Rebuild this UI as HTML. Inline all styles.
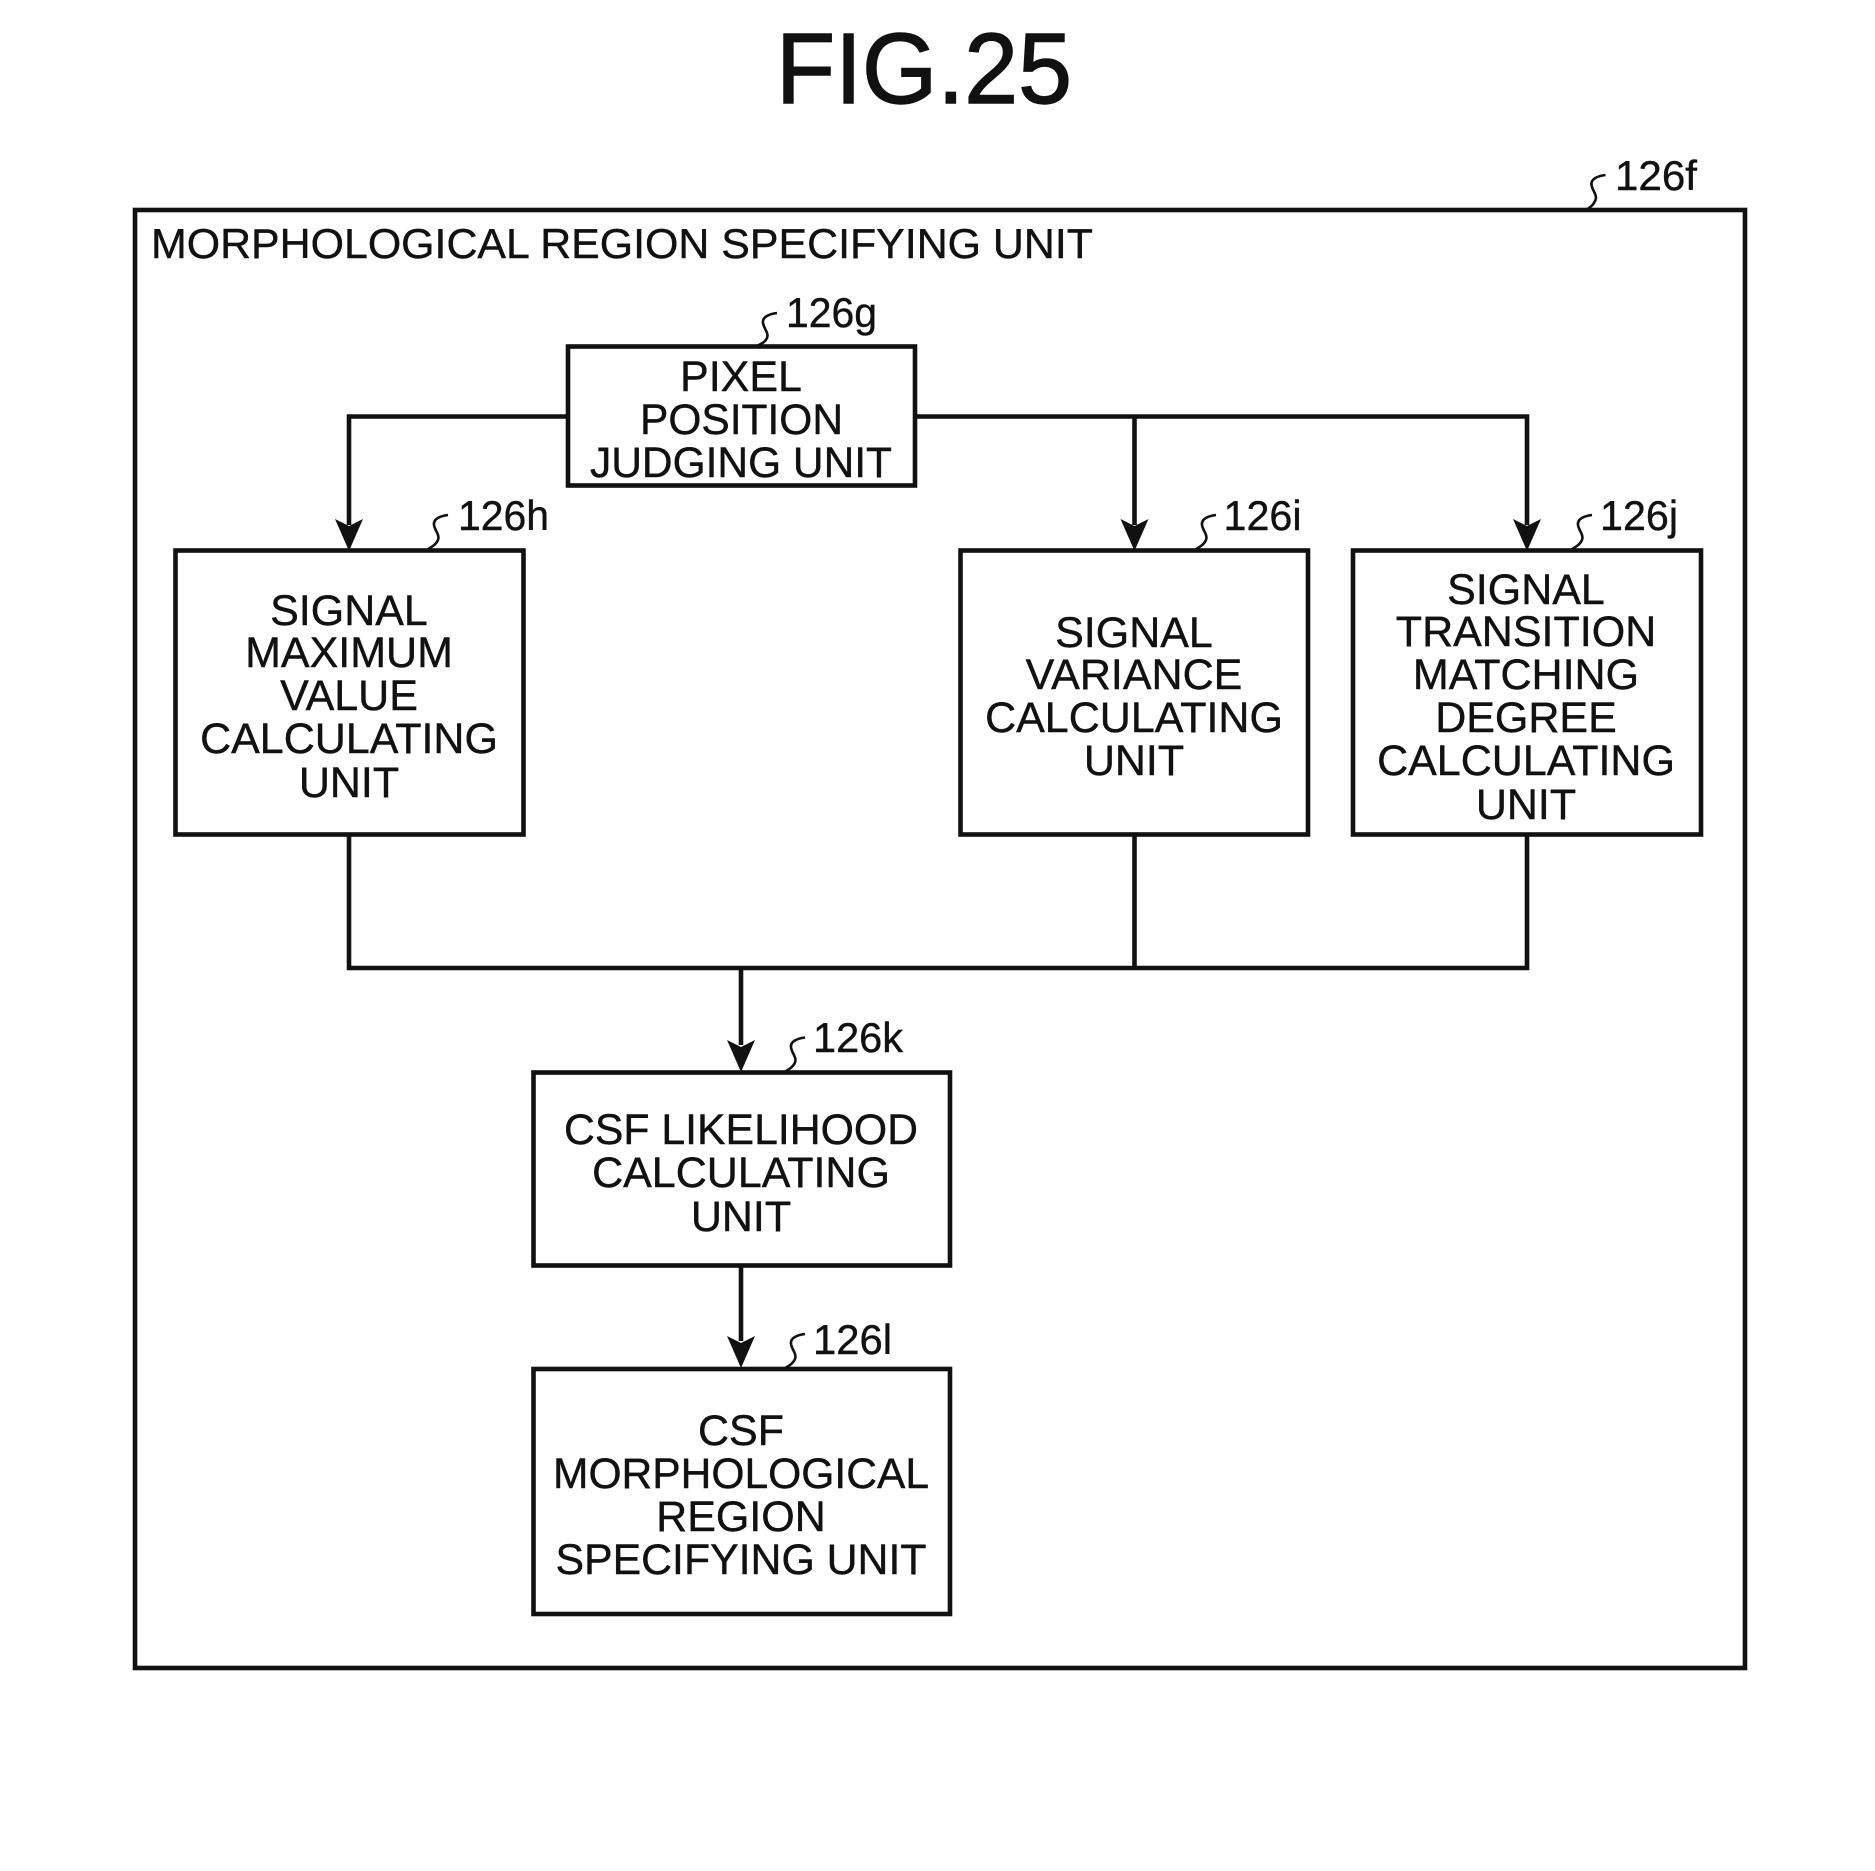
<!DOCTYPE html>
<html>
<head>
<meta charset="utf-8">
<style>
html,body{margin:0;padding:0;background:#fff;}
svg{display:block;}
text{font-family:"Liberation Sans",sans-serif;fill:#111;stroke:#111;stroke-width:0.4;}
.t{font-size:43px;text-anchor:middle;}
.l{font-size:42px;}
.b{fill:none;stroke:#111;stroke-width:4.6;}
.c{fill:none;stroke:#111;stroke-width:4.6;}
.q{fill:none;stroke:#111;stroke-width:2.6;}
.a{fill:#111;stroke:none;}
</style>
</head>
<body>
<svg width="1875" height="1871" viewBox="0 0 1875 1871" xmlns="http://www.w3.org/2000/svg">
<rect width="1875" height="1871" fill="#fff"/>
<text x="776" y="103" font-size="100" textLength="296" lengthAdjust="spacingAndGlyphs" style="stroke-width:1.4">FIG.25</text>

<rect class="b" x="135" y="210" width="1610" height="1458"/>
<text class="l" x="151" y="258" textLength="942" lengthAdjust="spacingAndGlyphs">MORPHOLOGICAL REGION SPECIFYING UNIT</text>

<rect class="b" x="568" y="346.500" width="347" height="139"/>
<rect class="b" x="175.500" y="550.500" width="348" height="284"/>
<rect class="b" x="960.500" y="550.500" width="347.500" height="284"/>
<rect class="b" x="1353" y="550.500" width="348" height="284"/>
<rect class="b" x="533.500" y="1072.500" width="416.500" height="193"/>
<rect class="b" x="533.500" y="1369" width="416.500" height="245"/>

<path class="c" d="M568 416.500H349V525"/>
<path class="c" d="M915 416.500H1527V525M1134.500 416.500V525"/>
<path class="c" d="M349 834V968H1527V834M1134.500 834V968M741 968V1045M741 1265V1341"/>

<polygon class="a" points="349,551 335,519 349,526 363,519"/>
<polygon class="a" points="1134.500,551 1120.500,519 1134.500,526 1148.500,519"/>
<polygon class="a" points="1527,551 1513,519 1527,526 1541,519"/>
<polygon class="a" points="741,1072 727,1040 741,1047 755,1040"/>
<polygon class="a" points="741,1368 727,1336 741,1343 755,1336"/>

<path class="q" d="M1605.500 175c-8 1-15 4-14 10c1 6 6 10 4 15c-2 5-5 7-8 9"/>
<path class="q" d="M777 313c-8 1-15 4-14 10c1 6 6 10 4 15c-2 5-7 6-10 8"/>
<path class="q" d="M448 515c-8 1-15 4-14 10c1 6 6 10 4 15c-2 5-7 7-11 10"/>
<path class="q" d="M1216 515c-8 1-15 4-14 10c1 6 6 10 4 15c-2 5-7 7-11 10"/>
<path class="q" d="M1592 515c-8 1-15 4-14 10c1 6 6 10 4 15c-2 5-7 7-11 10"/>
<path class="q" d="M805 1037.500c-8 1-15 4-14 10c1 6 6 10 4 15c-2 5-7 7-11 10"/>
<path class="q" d="M805 1334c-8 1-15 4-14 10c1 6 6 10 4 15c-2 5-7 7-11 10"/>

<text class="l" x="1615" y="190" textLength="82" lengthAdjust="spacingAndGlyphs">126f</text>
<text class="l" x="786" y="327" textLength="91" lengthAdjust="spacingAndGlyphs">126g</text>
<text class="l" x="458" y="530" textLength="91" lengthAdjust="spacingAndGlyphs">126h</text>
<text class="l" x="1223.500" y="530" textLength="78" lengthAdjust="spacingAndGlyphs">126i</text>
<text class="l" x="1600" y="530" textLength="78" lengthAdjust="spacingAndGlyphs">126j</text>
<text class="l" x="813" y="1052" textLength="90" lengthAdjust="spacingAndGlyphs">126k</text>
<text class="l" x="813" y="1354" textLength="79" lengthAdjust="spacingAndGlyphs">126l</text>

<text class="t" x="741" y="391">PIXEL</text>
<text class="t" x="741.500" y="434" textLength="203" lengthAdjust="spacingAndGlyphs">POSITION</text>
<text class="t" x="741" y="477" textLength="302" lengthAdjust="spacingAndGlyphs">JUDGING UNIT</text>

<text class="t" x="349" y="625">SIGNAL</text>
<text class="t" x="349" y="667">MAXIMUM</text>
<text class="t" x="349" y="710">VALUE</text>
<text class="t" x="349" y="753">CALCULATING</text>
<text class="t" x="349" y="797">UNIT</text>

<text class="t" x="1134" y="647">SIGNAL</text>
<text class="t" x="1134" y="689">VARIANCE</text>
<text class="t" x="1134" y="732">CALCULATING</text>
<text class="t" x="1134" y="775">UNIT</text>

<text class="t" x="1526" y="604">SIGNAL</text>
<text class="t" x="1526" y="646">TRANSITION</text>
<text class="t" x="1526" y="689">MATCHING</text>
<text class="t" x="1526" y="732">DEGREE</text>
<text class="t" x="1526" y="775">CALCULATING</text>
<text class="t" x="1526" y="819">UNIT</text>

<text class="t" x="741" y="1144" textLength="354" lengthAdjust="spacingAndGlyphs">CSF LIKELIHOOD</text>
<text class="t" x="741" y="1187">CALCULATING</text>
<text class="t" x="741" y="1231">UNIT</text>

<text class="t" x="741" y="1445">CSF</text>
<text class="t" x="741" y="1488" textLength="376" lengthAdjust="spacingAndGlyphs">MORPHOLOGICAL</text>
<text class="t" x="741" y="1531">REGION</text>
<text class="t" x="741" y="1574" textLength="371" lengthAdjust="spacingAndGlyphs">SPECIFYING UNIT</text>
</svg>
</body>
</html>
